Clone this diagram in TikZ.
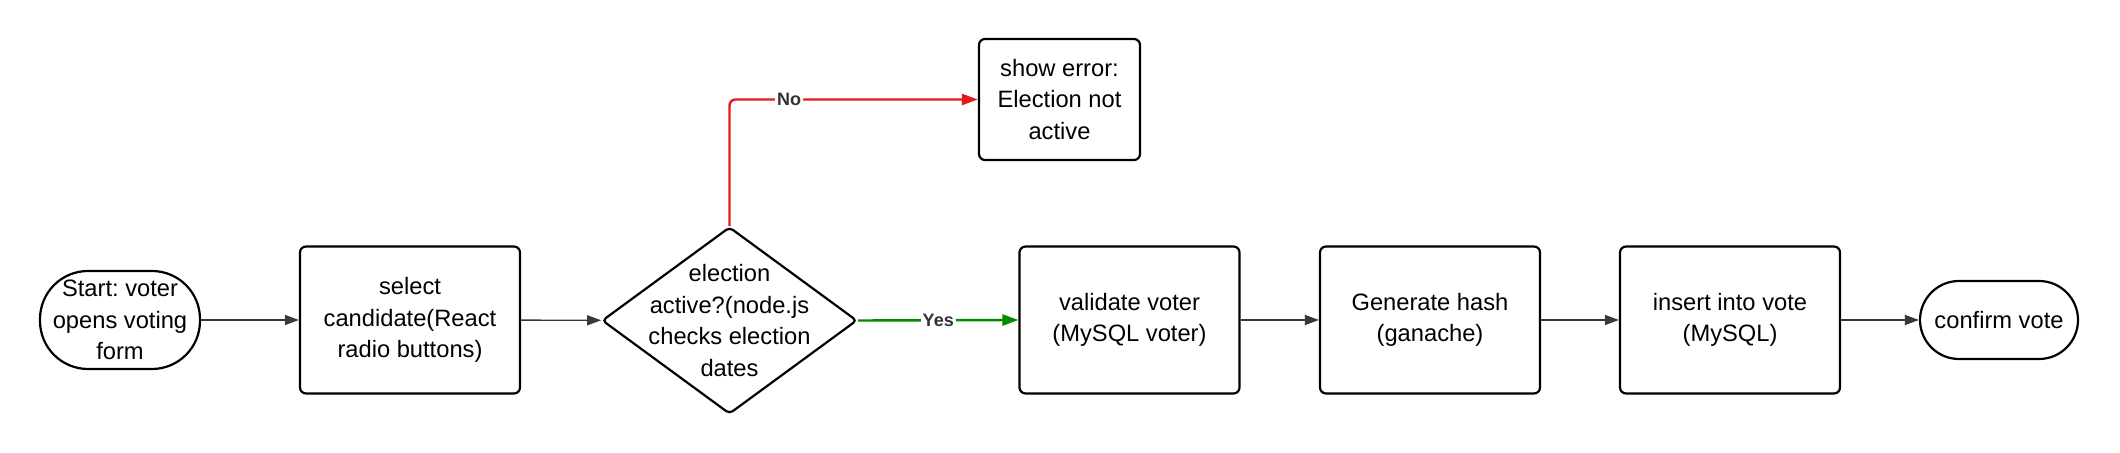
\documentclass[tikz,border=0pt]{standalone}
\usepackage{fontspec}
\setmainfont{Liberation Sans}
\frenchspacing
\usetikzlibrary{arrows.meta,shapes.geometric}
\definecolor{edgegray}{HTML}{333842}
\definecolor{noRed}{HTML}{E3191C}
\definecolor{yesGreen}{HTML}{008A00}
\definecolor{tagGray}{HTML}{333333}

\begin{document}
\begin{tikzpicture}[x=0.5pt,y=-0.5pt,
	every node/.style={font=\fontsize{11.85pt}{15.85pt}\selectfont,align=center},
	box/.style={draw=black,line width=1.1pt,rounded corners=3pt,minimum width=110pt,minimum height=73.5pt,inner sep=0pt},
	term/.style={draw=black,line width=1.1pt,inner sep=0pt},
	decision/.style={draw=black,line width=1.1pt,diamond,minimum width=127.5pt,minimum height=93.5pt,inner sep=0pt,rounded corners=2pt},
	flow/.style={draw=edgegray,line width=0.7pt,-{Triangle[length=7pt,width=5pt]}},
	yesline/.style={draw=yesGreen,line width=1.2pt,-{Triangle[length=8pt,width=5.5pt]}},
	noline/.style={draw=noRed,line width=1.2pt,rounded corners=3pt,-{Triangle[length=8pt,width=5.5pt]}},
	tag/.style={font=\fontsize{9pt}{10pt}\selectfont\bfseries,text=tagGray,fill=white,inner sep=1pt}]
			\useasboundingbox (0,0) rectangle (2120,453);

			\node[term,rounded corners=24pt,minimum width=80pt,minimum height=49pt] (start) at (120,320) {Start: voter\\opens voting\\form};
			\node[box] (select) at (410,320) {select\\candidate(React\\radio buttons)};
			\node[decision] (check) at (729.5,320.5) {};
			\node (checktext) at (check) {election\\active?(node.js\\checks election\\dates};
			\node[box,minimum width=80.5pt,minimum height=60.5pt] (err) at (1059.5,99.5) {show error:\\Election not\\active};
			\node[box] (validate) at (1129.5,320) {validate voter\\(MySQL voter)};
			\node[box] (hash) at (1430,320) {Generate hash\\(ganache)};
			\node[box] (insert) at (1730,320) {insert into vote\\(MySQL)};
			\node[term,rounded corners=19.5pt,minimum width=79pt,minimum height=39pt] (confirm) at (1999,320) {confirm vote};

			\draw[flow] (start) -- (select);
			\draw[flow] (select) -- (check);
			\draw[yesline] (check.east) -- node[tag] {Yes} (validate.west);
			\draw[noline] (check.north) |- node[tag,pos=0.62] {No} (err.west);
			\draw[flow] (validate) -- (hash);
			\draw[flow] (hash) -- (insert);
			\draw[flow] (insert) -- (confirm);
\end{tikzpicture}
\end{document}
